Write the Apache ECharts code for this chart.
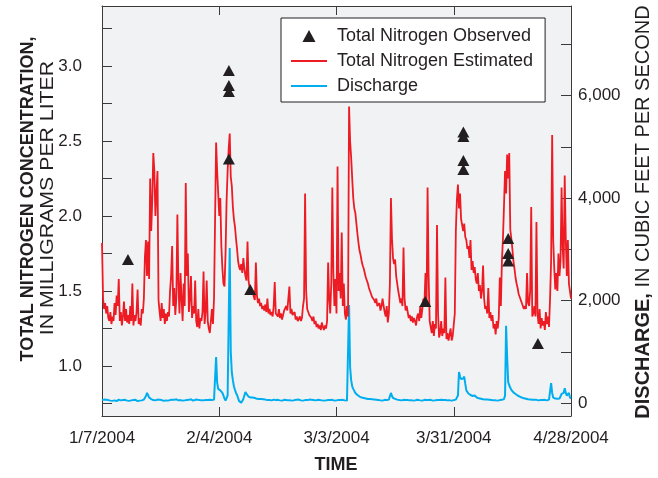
<!DOCTYPE html>
<html><head><meta charset="utf-8">
<script src="https://cdn.jsdelivr.net/npm/echarts@6/dist/echarts.min.js"></script>
<style>html,body{margin:0;padding:0;background:#fff}#c{width:658px;height:478px}</style>
</head><body><div id="c"></div>
<script>
// x positions are days since 1/7/2004
const xTickDays = [0, 28, 56, 84, 112];
const xTickLabels = ['1/7/2004', '2/4/2004', '3/3/2004', '3/31/2004', '4/28/2004'];
const stepDays = 0.25; // 6-hourly readings

const nitrogenEstimated = [
1.82,1.45,1.38,1.42, 1.35,1.40,1.32,1.30, 1.36,1.28,1.33,1.30, 1.42,1.34,1.47,1.40,
1.58,1.30,1.36,1.27, 1.33,1.43,1.30,1.38, 1.29,1.34,1.28,1.40, 1.30,1.55,1.27,1.34,
1.30,1.36,1.51,1.28, 1.32,1.27,1.38,1.35, 1.45,1.73,1.84,1.60, 1.83,1.58,2.25,1.90,
2.10,2.42,2.30,2.00, 2.00,2.30,1.44,1.36, 1.30,1.42,1.32,1.38, 1.28,1.35,1.30,1.36,
1.33,1.50,1.60,1.80, 1.40,1.52,1.34,1.45, 2.01,1.55,1.35,1.62, 1.45,1.30,1.55,1.40,
2.22,1.60,1.75,1.36, 1.45,1.60,1.32,1.40, 1.35,1.57,1.30,1.26, 1.38,1.25,1.32,1.30,
1.36,1.63,1.28,1.36, 1.57,1.30,1.25,1.22, 1.30,1.38,1.28,1.45, 1.45,2.49,2.30,2.15,
2.00,2.12,1.80,1.65, 1.55,1.53,1.75,2.10, 2.30,2.45,2.55,2.26, 2.20,2.06,1.98,1.93,
1.85,1.78,1.70,1.66, 1.64,1.68,1.62,1.72, 1.65,1.60,1.57,1.83, 1.57,1.52,1.50,1.48,
1.50,1.46,1.44,1.69, 1.47,1.42,1.45,1.40, 1.42,1.38,1.40,1.37, 1.41,1.36,1.45,1.35,
1.38,1.34,1.36,1.33, 1.40,1.56,1.35,1.36, 1.33,1.38,1.32,1.35, 1.31,1.34,1.37,1.36,
1.40,1.37,1.36,1.53, 1.35,1.38,1.34,1.33, 1.36,1.31,1.33,1.30, 1.29,1.33,1.30,1.32,
1.40,1.45,2.15,1.50, 1.38,1.36,1.34,1.35, 1.32,1.30,1.33,1.28, 1.30,1.26,1.28,1.25,
1.27,1.24,1.29,1.26, 1.24,1.27,1.25,1.30, 1.69,1.45,1.35,1.55, 2.19,1.62,1.40,1.58,
1.35,2.33,1.50,1.62, 1.45,1.89,1.40,1.55, 1.35,1.31,1.40,1.33, 2.73,2.50,2.39,2.25,
2.12,2.05,2.02,1.95, 1.88,1.82,1.77,1.74, 1.70,1.67,1.65,1.62, 1.59,1.58,1.55,1.52,
1.50,1.48,1.46,1.47, 1.44,1.42,1.45,1.40, 1.39,1.42,1.37,1.40, 1.45,1.40,1.36,1.33,
1.40,1.29,1.35,1.55, 2.12,1.85,1.72,1.68, 1.71,1.60,1.55,1.50, 1.46,1.42,1.45,1.40,
1.79,1.45,1.37,1.40, 1.36,1.32,1.34,1.30, 1.33,1.29,1.32,1.30, 1.27,1.33,1.35,1.30,
1.40,1.32,1.38,1.45, 1.42,1.62,1.40,2.19, 1.60,1.30,1.26,1.22, 1.30,1.20,1.28,1.25,
1.94,1.35,1.19,1.22, 1.30,1.20,1.25,1.22, 1.59,1.18,1.22,1.17, 1.21,1.25,1.17,1.20,
1.20,1.35,1.90,2.11, 2.21,2.05,2.15,1.98, 1.97,1.90,1.95,1.86, 1.84,1.78,1.80,1.72,
1.84,1.64,1.70,1.62, 1.66,1.58,1.55,1.62, 1.50,1.54,1.45,1.50, 1.67,1.45,1.38,1.40,
1.35,1.52,1.32,1.36, 1.30,1.34,1.25,1.28, 1.21,1.30,1.25,1.32, 1.59,1.40,1.70,1.85,
2.07,2.30,2.15,2.41, 2.25,2.42,1.91,1.85, 1.78,1.70,1.65,1.59, 1.55,1.52,1.48,1.46,
1.44,1.42,1.40,1.38, 1.40,1.38,1.62,1.42, 1.40,1.50,2.06,1.33, 1.35,1.40,1.33,1.96,
1.35,1.28,1.38,1.25, 1.32,1.27,1.30,1.24, 1.36,1.28,1.33,1.26, 1.45,1.70,2.54,1.84,
1.65,1.51,1.62,1.50, 1.75,1.60,1.70,2.19, 1.80,1.65,2.27,1.85, 1.60,1.84,1.55,1.50,
1.45
];

const discharge = [
60,55,70,50, 65,45,60,55, 50,70,45,60, 55,65,40,60, 70,50,55,45, 60,40,65,55,
50,60,45,70, 55,50,60,45, 65,55,40,60, 50,60,55,65, 70,90,140,200, 160,110,90,80,
70,60,75,55, 60,70,50,65, 55,60,70,45, 60,55,65,50, 70,60,55,65, 50,65,60,75,
60,55,70,60, 65,50,60,55, 70,60,50,65, 55,75,60,50, 60,65,55,70, 50,60,65,55,
60,55,70,60, 80,60,50,65, 55,60,40,70, 100,900,400,280, 260,250,240,200, 150,90,50,20,
150,1600,3030,1000, 600,450,330,260, 200,160,100,40, 20,10,40,80, 150,220,180,150, 130,120,110,100,
110,95,100,90, 85,90,80,75, 80,70,75,65, 70,65,60,70, 60,65,55,60, 70,55,60,50,
65,60,55,70, 50,60,65,55, 60,70,55,60, 55,60,50,65, 60,55,65,50, 70,60,55,60,
50,65,60,55, 60,55,70,60, 65,50,60,55, 55,60,65,50, 60,70,55,60, 50,60,55,65,
60,80,60,55, 65,60,50,60, 55,70,60,50, 60,55,65,60, 55,60,50,70, 1915,700,450,330,
280,240,200,180, 160,140,130,120, 110,105,100,95, 90,85,80,75, 80,70,75,65, 70,60,65,55,
60,65,55,60, 50,60,65,55, 60,55,70,80, 200,140,100,90, 85,75,70,65, 60,70,55,60,
65,55,60,50, 60,65,55,60, 55,60,50,65, 60,55,65,50, 55,60,50,60, 65,55,60,50,
60,55,65,60, 50,60,55,65, 60,50,60,55, 65,55,60,50, 60,70,55,60, 55,60,50,60,
60,55,70,100, 150,610,520,470, 450,480,520,380, 250,220,190,170, 160,150,140,130, 150,120,110,100,
95,90,85,80, 75,80,70,65, 70,60,65,55, 60,65,55,60, 55,60,50,65, 60,55,65,60,
80,150,1510,900, 410,350,300,260, 230,210,200,180, 160,150,140,130, 120,110,100,95, 90,85,80,75,
80,70,75,65, 70,65,60,65, 60,55,65,60, 55,60,50,65, 60,55,65,70, 100,390,200,110,
100,90,80,85, 80,90,120,180, 160,200,290,200, 150,120,200,110,
90
];

const observedDays = [6.2, 30.3, 30.3, 30.3, 30.3, 35.4, 77.2, 86.3, 86.3, 86.3, 86.3, 97.0, 97.0, 97.0, 104.1];
const observedValues = [1.71, 2.97, 2.87, 2.83, 2.38, 1.51, 1.43, 2.56, 2.53, 2.37, 2.31, 1.85, 1.75, 1.70, 1.15];

const leftTickValues = [0.75, 1.0, 1.25, 1.5, 1.75, 2.0, 2.25, 2.5, 2.75, 3.0, 3.25];
const leftLabelValues = [1.0, 1.5, 2.0, 2.5, 3.0];
const rightTickValues = [0, 1000, 2000, 3000, 4000, 5000, 6000, 7000];
const rightLabelValues = [0, 2000, 4000, 6000];

const seriesNames = ['Total Nitrogen Observed', 'Total Nitrogen Estimated', 'Discharge'];

const FONT = '"Liberation Sans", Arial, Helvetica, sans-serif';
const INK = '#231f20';
const AXIS = '#3a3a3a';
const RED = '#ed1c24';
const BLUE = '#00aeef';

const chart = echarts.init(document.getElementById('c'), null, {renderer: 'canvas'});

const xCommon = {
  type: 'value', min: 0, max: 112, interval: 28,
  axisLine: {show: true, onZero: false, lineStyle: {color: AXIS, width: 1}},
  axisTick: {show: true, inside: true, length: 9, lineStyle: {color: AXIS}},
  splitLine: {show: false}
};

chart.setOption({
  animation: false,
  backgroundColor: '#ffffff',
  grid: {left: 102, right: 87, top: 6, bottom: 62, show: true, backgroundColor: '#f1f2f4', borderWidth: 0},
  xAxis: [
    Object.assign({}, xCommon, {
      position: 'bottom',
      axisLabel: {
        show: true, margin: 14, color: INK, fontFamily: FONT, fontSize: 17,
        formatter: v => { const k = xTickDays.indexOf(v); return k >= 0 ? xTickLabels[k] : ''; }
      }
    }),
    Object.assign({}, xCommon, {position: 'top', axisLabel: {show: false}})
  ],
  yAxis: [
    {
      type: 'value', min: 0.6667, max: 3.4, position: 'left',
      axisLine: {show: true, onZero: false, lineStyle: {color: AXIS, width: 1}},
      axisTick: {show: true, inside: true, length: 10, customValues: leftTickValues, lineStyle: {color: AXIS}},
      axisLabel: {show: true, customValues: leftLabelValues, margin: 20, color: INK, fontFamily: FONT, fontSize: 17,
        formatter: v => Number(v).toFixed(1)},
      splitLine: {show: false}
    },
    {
      type: 'value', min: -250, max: 7750, position: 'right',
      axisLine: {show: true, onZero: false, lineStyle: {color: AXIS, width: 1}},
      axisTick: {show: true, inside: true, length: 10, customValues: rightTickValues, lineStyle: {color: AXIS}},
      axisLabel: {show: true, customValues: rightLabelValues, margin: 7, color: INK, fontFamily: FONT, fontSize: 17,
        formatter: v => Number(v).toLocaleString('en-US')},
      splitLine: {show: false}
    }
  ],
  legend: {
    left: 281, top: 18, orient: 'vertical',
    data: [
      {name: seriesNames[0], icon: 'path://M6,0 L12,11 L0,11 Z', itemStyle: {color: INK, opacity: 1}},
      {name: seriesNames[1], icon: 'path://M0,0 L36,0 L36,2.2 L0,2.2 Z', itemStyle: {color: RED}},
      {name: seriesNames[2], icon: 'path://M0,0 L36,0 L36,2.2 L0,2.2 Z', itemStyle: {color: BLUE}}
    ],
    symbolKeepAspect: true,
    backgroundColor: '#ffffff', borderColor: INK, borderWidth: 1, borderRadius: 0,
    padding: [9, 12, 7, 10], itemGap: 7, itemWidth: 36, itemHeight: 12,
    selectedMode: false,
    formatter: n => ' ' + n,
    textStyle: {color: INK, fontFamily: FONT, fontSize: 18, lineHeight: 18}
  },
  series: [
    {
      name: seriesNames[0], type: 'scatter', xAxisIndex: 0, yAxisIndex: 0,
      symbol: 'triangle', symbolSize: [12, 11], z: 6,
      itemStyle: {color: INK, opacity: 1},
      data: observedDays.map((d, i) => [d, observedValues[i]])
    },
    {
      name: seriesNames[1], type: 'line', xAxisIndex: 0, yAxisIndex: 0,
      symbol: 'none', z: 4, sampling: null,
      lineStyle: {color: RED, width: 1.8},
      itemStyle: {color: RED},
      data: nitrogenEstimated.map((v, i) => [i * stepDays, v])
    },
    {
      name: seriesNames[2], type: 'line', xAxisIndex: 0, yAxisIndex: 1,
      symbol: 'none', z: 3,
      lineStyle: {color: BLUE, width: 2},
      itemStyle: {color: BLUE},
      data: discharge.map((q, i) => [i * stepDays, q])
    }
  ],
  graphic: [
    {type: 'text', x: 28, y: 199, rotation: Math.PI / 2,
      style: {text: 'TOTAL NITROGEN CONCENTRATION,', font: 'bold 18px ' + FONT, fill: INK, align: 'center', verticalAlign: 'middle'}},
    {type: 'text', x: 48, y: 198, rotation: Math.PI / 2, scaleX: 1.12,
      style: {text: 'IN MILLIGRAMS PER LITER', font: '19px ' + FONT, fill: INK, align: 'center', verticalAlign: 'middle'}},
    {type: 'text', x: 643, y: 212, rotation: Math.PI / 2,
      style: {text: '{b|DISCHARGE,}{r| IN CUBIC FEET PER SECOND}', align: 'center', verticalAlign: 'middle',
        rich: {b: {font: 'bold 20px ' + FONT, fill: INK}, r: {font: '20px ' + FONT, fill: INK}}}},
    {type: 'text', x: 336, y: 465,
      style: {text: 'TIME', font: 'bold 18px ' + FONT, fill: INK, align: 'center', verticalAlign: 'middle'}}
  ]
});
</script>
</body></html>
